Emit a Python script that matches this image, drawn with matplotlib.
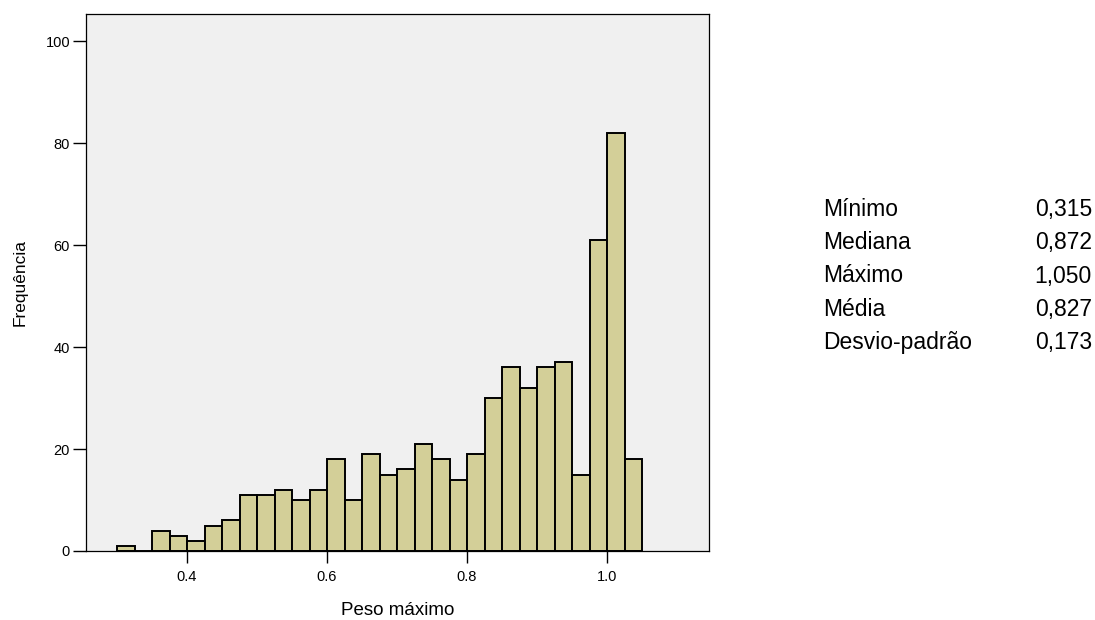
import numpy as np
import matplotlib
matplotlib.use('Agg')
import matplotlib.pyplot as plt

plt.rcParams['font.family'] = ['Liberation Sans', 'DejaVu Sans']

# histogram of "Peso maximo" (bins of 0.025 starting at 0.300)
bin_start = 0.300
bin_width = 0.025
counts = [1, 0, 4, 3, 2, 5, 6, 11, 11, 12,
          10, 12, 18, 10, 19, 15, 16, 21, 18, 14,
          19, 30, 36, 32, 36, 37, 15, 61, 82, 18]
bin_left = bin_start + bin_width * np.arange(len(counts))

xticks = [0.4, 0.6, 0.8, 1.0]
xtick_labels = ['0.4', '0.6', '0.8', '1.0']
yticks = [0, 20, 40, 60, 80, 100]

stat_names = ['Mínimo', 'Mediana', 'Máximo', 'Média', 'Desvio-padrão']
stat_values = ['0,315', '0,872', '1,050', '0,827', '0,173']

W, H = 1095, 620
fig = plt.figure(figsize=(W / 100, H / 100), dpi=100)
ax = fig.add_axes([86 / W, (H - 551) / H, 623 / W, 537 / H])
ax.set_facecolor('#f0f0f0')

ax.bar(bin_left, counts, width=bin_width, align='edge',
       color='#d3cf98', edgecolor='black', linewidth=1.4, zorder=2)

ax.set_xlim(0.2557, 1.1457)
ax.set_ylim(0, 105.3)
ax.set_xticks(xticks)
ax.set_xticklabels(xtick_labels)
ax.set_yticks(yticks)
ax.tick_params(axis='x', direction='out', length=8.5, width=1, labelsize=10.5, pad=5)
ax.tick_params(axis='y', direction='out', length=9.5, width=1, labelsize=10.5, pad=2)
for s in ax.spines.values():
    s.set_linewidth(0.9)

ax.set_xlabel('Peso máximo', fontsize=13.5, labelpad=13)
ax.set_ylabel('Frequência', fontsize=12.5, labelpad=13)

# summary table on the right
for i, (n, v) in enumerate(zip(stat_names, stat_values)):
    yy = 1 - (209 + i * 33.5) / H
    fig.text(823 / W, yy, n, fontsize=16.5, ha='left', va='center')
    fig.text(1092 / W, yy, v, fontsize=16.5, ha='right', va='center')

fig.savefig('out.png', dpi=100)
